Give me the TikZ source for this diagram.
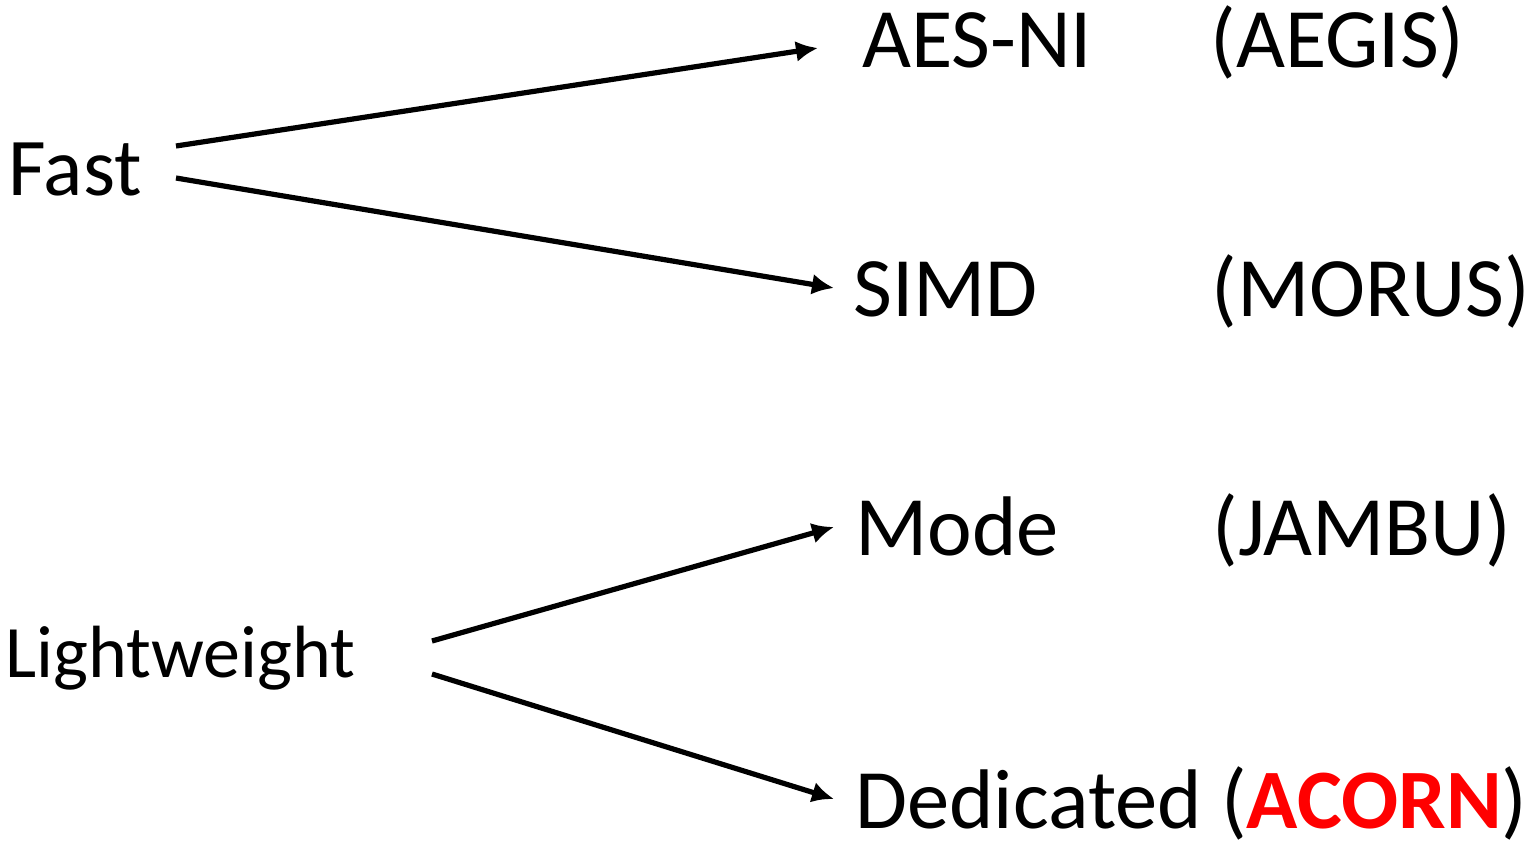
\documentclass[tikz,border=0pt]{standalone}
\usepackage{fontspec}
\setmainfont{Carlito}
\usetikzlibrary{arrows.meta}
\definecolor{acornred}{RGB}{255,0,0}
\begin{document}
\begin{tikzpicture}[x=0.5pt,y=-0.5pt,
  lbl/.style={inner sep=0pt,anchor=base west,font=\fontsize{42.3}{43}\selectfont},
  src/.style={inner sep=0pt,anchor=base west},
  link/.style={line width=2.6pt,-{Latex[length=11pt,width=10.5pt]}}]
\useasboundingbox (0,0) rectangle (1532,842);
% left-hand categories
\node[src,font=\fontsize{41}{41}\selectfont] (fast) at (8,195) {Fast};
\node[src,font=\fontsize{37}{37}\selectfont] (light) at (5,677) {Lightweight};
% right-hand targets
\node[lbl] (aes) at (862,67) {AES-NI};
\node[lbl] (aegis) at (1210,67) {(AEGIS)};
\node[lbl] (simd) at (853,316) {SIMD};
\node[lbl] (morus) at (1211,316) {(MORUS)};
\node[lbl] (mode) at (855,555) {Mode};
\node[lbl] (jambu) at (1212,555) {(JAMBU)};
\node[lbl] (ded) at (855,828) {Dedicated (\textcolor{acornred}{\textbf{ACORN}})};
% connector end points
\coordinate (fastA) at (176,146);
\coordinate (fastB) at (176,178);
\coordinate (aesIn) at (818,48);
\coordinate (simdIn) at (834,288);
\coordinate (lightA) at (432,641);
\coordinate (lightB) at (432,674);
\coordinate (modeIn) at (834,527);
\coordinate (dedIn) at (834,799);
\draw[link] (fastA) -- (aesIn);
\draw[link] (fastB) -- (simdIn);
\draw[link] (lightA) -- (modeIn);
\draw[link] (lightB) -- (dedIn);
\end{tikzpicture}
\end{document}
